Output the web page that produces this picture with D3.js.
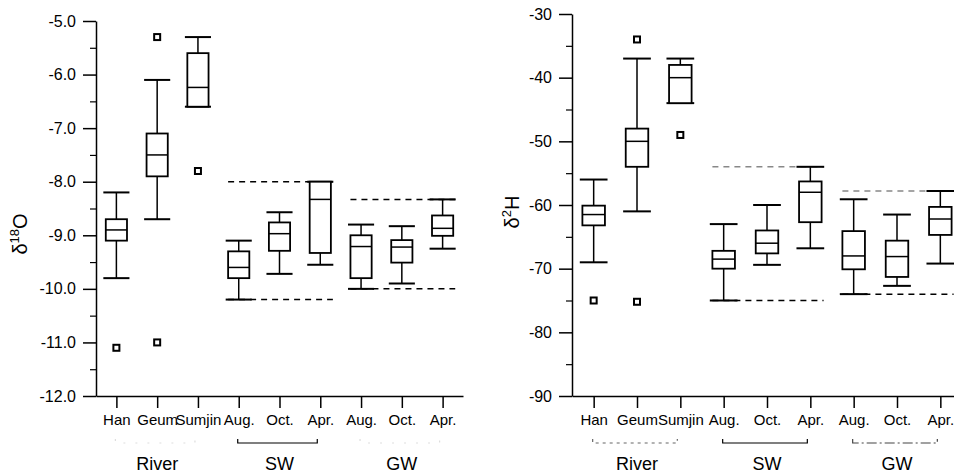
<!DOCTYPE html>
<html>
<head>
<meta charset="utf-8">
<script src="https://cdn.jsdelivr.net/npm/d3@7"></script>
<style>
  body { margin: 0; background: #fff; }
  text { font-family: "Liberation Sans", Arial, sans-serif; fill: #000; }
</style>
</head>
<body>
<script>
// categories along both x axes (index based, names repeat)
var categories = ["Han", "Geum", "Sumjin", "Aug.", "Oct.", "Apr.", "Aug.", "Oct.", "Apr."];
var groups = ["River", "SW", "GW"];
var groupOf = [0, 0, 0, 1, 1, 1, 2, 2, 2];

// delta 18O
var o18WhiskerLow = [-9.8, -8.7, -6.6, -10.2, -9.72, -9.55, -10.0, -9.9, -9.25];
var o18BoxLow = [-9.1, -7.9, -6.6, -9.8, -9.29, -9.33, -9.8, -9.51, -9.01];
var o18Median = [-8.9, -7.5, -6.24, -9.6, -8.97, -8.33, -9.21, -9.22, -8.87];
var o18BoxHigh = [-8.7, -7.1, -5.6, -9.3, -8.76, -8.0, -9.0, -9.09, -8.63];
var o18WhiskerHigh = [-8.2, -6.1, -5.3, -9.1, -8.57, -8.0, -8.8, -8.83, -8.33];
var o18Outliers = [[-11.1], [-5.3, -11.0], [-7.8], [], [], [], [], [], []];
var o18RangeHigh = [null, -8.0, -8.33];
var o18RangeLow = [null, -10.2, -10.0];
var o18Ticks = [-12, -11, -10, -9, -8, -7, -6, -5];

// delta 2H
var h2WhiskerLow = [-69, -61, -44, -75, -69.4, -66.8, -74, -72.7, -69.2];
var h2BoxLow = [-63.2, -54, -44, -70, -67.6, -62.7, -70.1, -71.3, -64.7];
var h2Median = [-61.5, -50, -40, -68.5, -66, -58, -68, -68.1, -62.2];
var h2BoxHigh = [-60.1, -48, -38, -67.2, -64, -56.3, -64.1, -65.6, -60.3];
var h2WhiskerHigh = [-56, -37, -37, -63, -60, -54, -59.1, -61.5, -57.8];
var h2Outliers = [[-75], [-34, -75.2], [-49], [], [], [], [], [], []];
var h2RangeHigh = [null, -54, -57.8];
var h2RangeLow = [null, -75, -74];
var h2Ticks = [-90, -80, -70, -60, -50, -40, -30];

var svg = d3.select("body")
    .append("svg")
    .attr("width", 954)
    .attr("height", 475);

function drawPanel(p) {
    var g = svg.append("g");

    var x = d3.scalePoint()
        .domain(d3.range(categories.length))
        .range([p.left, p.right])
        .padding(0.5);

    var y = d3.scaleLinear()
        .domain(p.domain)
        .range([396, p.top]);

    var boxW = x.step() * 0.52;
    var capW = x.step() * 0.64;

    // minor ticks
    g.append("g")
        .attr("transform", `translate(${p.left},0)`)
        .call(d3.axisLeft(y).tickValues(p.minor).tickSize(6).tickSizeOuter(0).tickFormat(""))
        .call(a => a.select(".domain").remove())
        .selectAll("line").attr("stroke-width", 1.2);

    // y axis
    var yAxis = g.append("g")
        .attr("transform", `translate(${p.left},0)`)
        .call(d3.axisLeft(y).tickValues(p.ticks).tickSize(13).tickSizeOuter(0).tickPadding(7).tickFormat(p.format));
    yAxis.selectAll("text").attr("font-size", 16).attr("font-family", null);
    yAxis.selectAll("line, path").attr("stroke-width", 1.5);

    // x axis
    var xAxis = g.append("g")
        .attr("transform", "translate(0,396)")
        .call(d3.axisBottom(x).tickSize(12).tickSizeOuter(0).tickPadding(6).tickFormat(i => categories[i]));
    xAxis.selectAll("text").attr("font-size", 15).attr("font-family", null);
    xAxis.selectAll("line, path").attr("stroke-width", 1.5);

    // dashed ranges for SW and GW
    groups.forEach(function(name, gi) {
        if (p.rangeHigh[gi] == null) return;
        var idx = d3.range(categories.length).filter(i => groupOf[i] == gi);
        var x0 = x(idx[0]) - boxW / 2;
        var x1 = x(idx[idx.length - 1]) + boxW / 2 + 2;
        [p.rangeHigh[gi], p.rangeLow[gi]].forEach(function(v, k) {
            g.append("line")
                .attr("x1", x0).attr("x2", x1)
                .attr("y1", y(v)).attr("y2", y(v))
                .attr("stroke", p.rangeColor[k])
                .attr("stroke-width", 1.5)
                .attr("stroke-dasharray", "6,5");
        });
    });

    var idx = d3.range(categories.length);

    // whiskers
    g.selectAll(".wh").data(idx).enter().append("line")
        .attr("x1", i => x(i)).attr("x2", i => x(i))
        .attr("y1", i => y(p.whiskerHigh[i])).attr("y2", i => y(p.whiskerLow[i]))
        .attr("stroke", "#000").attr("stroke-width", 1.5);

    g.selectAll(".capHi").data(idx).enter().append("line")
        .attr("x1", i => x(i) - capW / 2).attr("x2", i => x(i) + capW / 2)
        .attr("y1", i => y(p.whiskerHigh[i])).attr("y2", i => y(p.whiskerHigh[i]))
        .attr("stroke", "#000").attr("stroke-width", 2);

    g.selectAll(".capLo").data(idx).enter().append("line")
        .attr("x1", i => x(i) - capW / 2).attr("x2", i => x(i) + capW / 2)
        .attr("y1", i => y(p.whiskerLow[i])).attr("y2", i => y(p.whiskerLow[i]))
        .attr("stroke", "#000").attr("stroke-width", 2);

    // boxes
    g.selectAll(".box").data(idx).enter().append("rect")
        .attr("x", i => x(i) - boxW / 2)
        .attr("width", boxW)
        .attr("y", i => y(p.boxHigh[i]))
        .attr("height", i => y(p.boxLow[i]) - y(p.boxHigh[i]))
        .attr("fill", "#fff")
        .attr("stroke", "#000").attr("stroke-width", 1.8);

    g.selectAll(".med").data(idx).enter().append("line")
        .attr("x1", i => x(i) - boxW / 2).attr("x2", i => x(i) + boxW / 2)
        .attr("y1", i => y(p.median[i])).attr("y2", i => y(p.median[i]))
        .attr("stroke", "#000").attr("stroke-width", 1.5);

    // outliers
    var pts = [];
    p.outliers.forEach((arr, i) => arr.forEach(v => pts.push({ i: i, v: v })));
    g.selectAll(".out").data(pts).enter().append("rect")
        .attr("x", d => x(d.i) - 3).attr("y", d => y(d.v) - 3)
        .attr("width", 6).attr("height", 6)
        .attr("fill", "#fff")
        .attr("stroke", "#000").attr("stroke-width", 2);

    // group brackets and names
    groups.forEach(function(name, gi) {
        var ids = idx.filter(i => groupOf[i] == gi);
        var bx0 = x(ids[0]) - 1;
        var bx1 = x(ids[ids.length - 1]) - 3;
        g.append("path")
            .attr("d", `M${bx0},439V443H${bx1}V439`)
            .attr("fill", "none")
            .attr("stroke", p.bracketColor[gi])
            .attr("stroke-width", 1.2)
            .attr("stroke-dasharray", p.bracketDash[gi]);
        g.append("text")
            .attr("x", d3.mean(ids, i => x(i)))
            .attr("y", 470)
            .attr("text-anchor", "middle")
            .attr("font-size", 18)
            .text(name);
    });

    // y axis title
    var t = g.append("text")
        .attr("transform", `translate(${p.titleX},${p.titleY}) rotate(-90)`)
        .attr("text-anchor", "middle")
        .attr("font-size", 20);
    t.append("tspan").text("δ");
    t.append("tspan").attr("font-size", 13).attr("dy", -8).text(p.titleSup);
    t.append("tspan").attr("dy", 8).text(p.titleEl);
}

drawPanel({
    left: 96, right: 463, top: 21,
    domain: [-12, -5],
    ticks: o18Ticks,
    minor: d3.range(-11.5, -5, 1),
    format: d => d.toFixed(1),
    whiskerLow: o18WhiskerLow, boxLow: o18BoxLow, median: o18Median,
    boxHigh: o18BoxHigh, whiskerHigh: o18WhiskerHigh, outliers: o18Outliers,
    rangeHigh: o18RangeHigh, rangeLow: o18RangeLow,
    rangeColor: ["#000", "#000"],
    bracketColor: ["#ddd", "#000", "#ddd"],
    bracketDash: ["2,10", null, "2,10"],
    titleX: 27, titleY: 234, titleSup: "18", titleEl: "O"
});

drawPanel({
    left: 572, right: 962, top: 14,
    domain: [-90, -30],
    ticks: h2Ticks,
    minor: d3.range(-85, -30, 10),
    format: d => String(d),
    whiskerLow: h2WhiskerLow, boxLow: h2BoxLow, median: h2Median,
    boxHigh: h2BoxHigh, whiskerHigh: h2WhiskerHigh, outliers: h2Outliers,
    rangeHigh: h2RangeHigh, rangeLow: h2RangeLow,
    rangeColor: ["#888", "#000"],
    bracketColor: ["#666", "#000", "#444"],
    bracketDash: ["3,4", null, "10,3,2,3"],
    titleX: 519, titleY: 212, titleSup: "2", titleEl: "H"
});
</script>
</body>
</html>
